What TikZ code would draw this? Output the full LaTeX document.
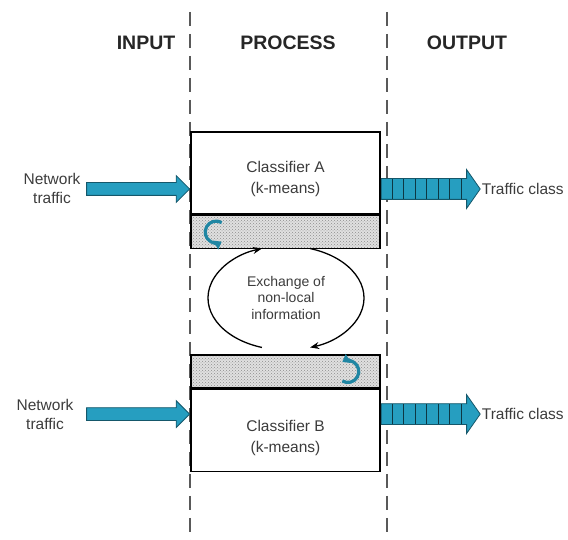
\documentclass[tikz,border=0pt]{standalone}
\usepackage{fontspec}
\setmainfont{Liberation Sans}
\usetikzlibrary{arrows.meta,shapes.arrows,patterns}

\definecolor{flowblue}{RGB}{38,158,192}
\definecolor{txtgray}{RGB}{60,60,60}

\tikzset{
  phase/.style={font=\bfseries\fontsize{19.5}{22}\selectfont,text=black!85},
  divider/.style={line width=1.6pt,black!65,dash pattern=on 14pt off 8pt},
  classbox/.style={draw,line width=1.6pt,fill=white,minimum width=189pt,minimum height=82pt,inner sep=0pt},
  classtext/.style={align=center,font=\fontsize{15.5}{21}\selectfont,text=txtgray},
  memstrip/.style={draw,line width=1.6pt,minimum width=189pt,minimum height=33pt,inner sep=0pt,
    preaction={fill=black!12},pattern=crosshatch dots,pattern color=black!45},
  inarrow/.style={single arrow,draw=flowblue!55!black,line width=0.8pt,fill=flowblue,
    inner xsep=0pt,inner ysep=6pt,minimum height=103pt,single arrow head extend=7pt},
  outarrow/.style={single arrow,draw=flowblue!55!black,line width=0.8pt,fill=flowblue,
    inner xsep=0pt,inner ysep=10pt,minimum height=99pt,single arrow head extend=9pt,
    single arrow tip angle=110},
  iolabel/.style={align=center,font=\fontsize{15.5}{19}\selectfont,text=txtgray},
  xchgarrow/.style={line width=1.3pt,-{Stealth[length=9pt,width=7pt]}},
  loopback/.style={line width=3.2pt,flowblue!85!black,-{Triangle[length=7pt,width=10pt]}}
}

\begin{document}
\begin{tikzpicture}[x=1pt,y=1pt]
\useasboundingbox (0,0) rectangle (568,540);

% columns
\draw[divider] (190,528) -- (190,0);
\draw[divider] (387,528) -- (387,0);
\node[phase] (hin) at (146,497) {INPUT};
\node[phase] (hproc) at (288,497) {PROCESS};
\node[phase] (hout) at (467,497) {OUTPUT};

% classifier A with its shared memory strip
\node[classbox] (clsA) at (285.5,367) {};
\node[classtext] (clsAtxt) at ([yshift=-6pt]clsA.center) {Classifier A\\(k-means)};
\node[memstrip,anchor=north] (memA) at (clsA.south) {};

% classifier B
\node[memstrip] (memB) at (285.5,168.5) {};
\node[classbox,anchor=north] (clsB) at (memB.south) {};
\node[classtext] (clsBtxt) at ([yshift=-7pt]clsB.center) {Classifier B\\(k-means)};

% inputs
\node[inarrow,anchor=tip] (inA) at ([yshift=-16pt]clsA.west) {};
\node[inarrow,anchor=tip] (inB) at ([yshift=16.5pt]clsB.west) {};
\node[iolabel] (srcA) at (52,352) {Network\\traffic};
\node[iolabel] (srcB) at (45,126) {Network\\traffic};

% outputs, striped shaft
\node[outarrow,anchor=tail] (outA) at ([yshift=-16pt]clsA.east) {};
\node[outarrow,anchor=tail] (outB) at ([yshift=16.5pt]clsB.east) {};
\foreach \k in {1,...,7} {
  \draw[line width=1pt,flowblue!35!black] ([xshift=\k*11.5pt]outA.tail) ++(0,-10) -- ++(0,20);
  \draw[line width=1pt,flowblue!35!black] ([xshift=\k*11.5pt]outB.tail) ++(0,-10) -- ++(0,20);
}
\node[iolabel,anchor=west,inner sep=1pt] (clsoutA) at (outA.tip) {Traffic class};
\node[iolabel,anchor=west,inner sep=1pt] (clsoutB) at (outB.tip) {Traffic class};

% exchange loop between the strips
\node[align=center,font=\fontsize{14}{16.5}\selectfont,text=txtgray] (xchg) at (286,242)
  {Exchange of\\non-local\\information};
\draw[xchgarrow] (xchg.center) ++(252:78 and 52) arc[start angle=252,end angle=108,x radius=78,y radius=52];
\draw[xchgarrow] (xchg.center) ++(72:78 and 52) arc[start angle=72,end angle=-72,x radius=78,y radius=52];

% local update loops
\draw[loopback] ([xshift=26pt]memA.west) ++(60:11) arc[start angle=60,end angle=300,radius=11];
\draw[loopback] ([xshift=-33pt]memB.east) ++(240:11) arc[start angle=240,end angle=480,radius=11];
\end{tikzpicture}
\end{document}
